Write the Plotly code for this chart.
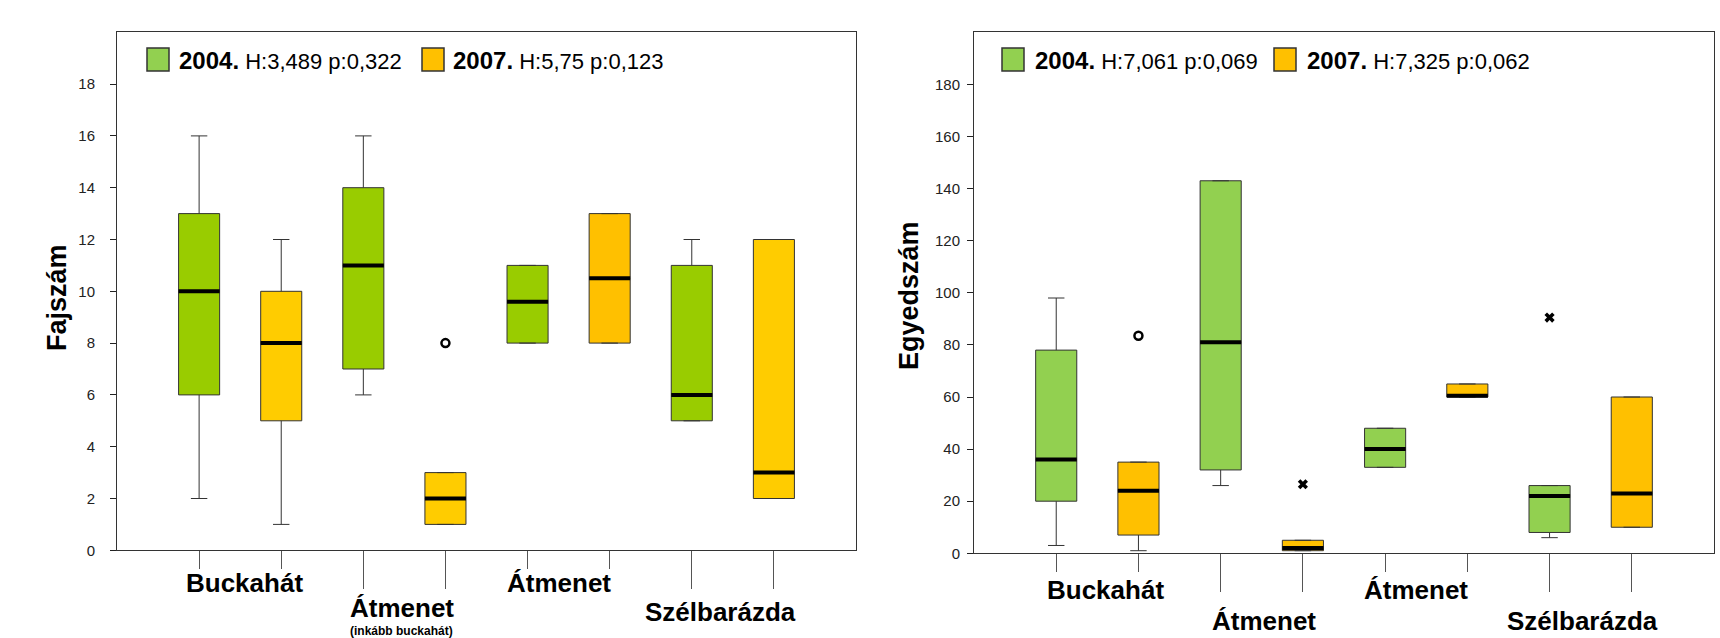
import plotly.graph_objects as go

W, H = 1720, 638
FONT = "Liberation Sans, Arial, sans-serif"

# Box positions: 2004 / 2007 pairs for each habitat
positions = [1, 2, 3, 4, 5, 6, 7, 8]
group_labels = ["Buckahát", "Átmenet", "Átmenet", "Szélbarázda"]
group_sub = ["", "(inkább buckahát)", "", ""]

# Fajszám (number of species)
faj_low = [2, 1, 6, 1, 8, 8, 5, 2]
faj_q1 = [6, 5, 7, 1, 8, 8, 5, 2]
faj_med = [10, 8, 11, 2, 9.6, 10.5, 6, 3]
faj_q3 = [13, 10, 14, 3, 11, 13, 11, 12]
faj_high = [16, 12, 16, 3, 11, 13, 12, 12]
faj_out_x = [4]
faj_out_y = [8]
faj_ticks = [0, 2, 4, 6, 8, 10, 12, 14, 16, 18]
faj_legend = [("2004.", "H:3,489 p:0,322"), ("2007.", "H:5,75 p:0,123")]

# Egyedszám (number of individuals)
egy_low = [3, 1, 26, 1, 33, 60, 6, 10]
egy_q1 = [20, 7, 32, 1, 33, 60, 8, 10]
egy_med = [36, 24, 81, 2, 40, 60.5, 22, 23]
egy_q3 = [78, 35, 143, 5, 48, 65, 26, 60]
egy_high = [98, 35, 143, 5, 48, 65, 26, 60]
egy_out_x = [2]
egy_out_y = [83.5]
egy_ext_x = [4, 7]
egy_ext_y = [26.5, 90.5]
egy_ticks = [0, 20, 40, 60, 80, 100, 120, 140, 160, 180]
egy_legend = [("2004.", "H:7,061 p:0,069"), ("2007.", "H:7,325 p:0,062")]

faj_colors = ["#99CC00", "#FFCC00", "#99CC00", "#FFCC00",
              "#99CC00", "#FFC000", "#99CC00", "#FFCC00"]
egy_colors = ["#92D050", "#FFC000", "#92D050", "#FFC000",
              "#92D050", "#FFC000", "#92D050", "#FFC000"]
legend_colors = ["#92D050", "#FFC000"]

BOX_W = 0.5

fig = go.Figure()


def add_panel(xa, ya, low, q1, med, q3, high, colors):
    for p, lo, a, m, b, hi, c in zip(positions, low, q1, med, q3, high, colors):
        fig.add_trace(go.Box(
            x=[p], q1=[a], median=[m], q3=[b], lowerfence=[lo], upperfence=[hi],
            width=BOX_W, whiskerwidth=0.4, fillcolor=c, boxpoints=False,
            line=dict(color="#333333", width=1), xaxis=xa, yaxis=ya,
            showlegend=False, hoverinfo="skip"))
    mx, my = [], []
    for p, m in zip(positions, med):
        mx += [p - BOX_W / 2, p + BOX_W / 2, None]
        my += [m, m, None]
    fig.add_trace(go.Scatter(x=mx, y=my, mode="lines", xaxis=xa, yaxis=ya,
                             line=dict(color="black", width=4),
                             showlegend=False, hoverinfo="skip"))


add_panel("x", "y", faj_low, faj_q1, faj_med, faj_q3, faj_high, faj_colors)
add_panel("x2", "y2", egy_low, egy_q1, egy_med, egy_q3, egy_high, egy_colors)

# outliers
fig.add_trace(go.Scatter(x=faj_out_x, y=faj_out_y, mode="markers", xaxis="x", yaxis="y",
                         marker=dict(symbol="circle-open", size=8, color="black",
                                     line=dict(width=2.5)),
                         showlegend=False, hoverinfo="skip"))
fig.add_trace(go.Scatter(x=egy_out_x, y=egy_out_y, mode="markers", xaxis="x2", yaxis="y2",
                         marker=dict(symbol="circle-open", size=8, color="black",
                                     line=dict(width=2.5)),
                         showlegend=False, hoverinfo="skip"))
fig.add_trace(go.Scatter(x=egy_ext_x, y=egy_ext_y, mode="markers", xaxis="x2", yaxis="y2",
                         marker=dict(symbol="x", size=9, color="black",
                                     line=dict(width=0)),
                         showlegend=False, hoverinfo="skip"))
# empty traces so the long-tick overlay axes get drawn
fig.add_trace(go.Scatter(x=[], y=[], xaxis="x3", yaxis="y", showlegend=False))
fig.add_trace(go.Scatter(x=[], y=[], xaxis="x4", yaxis="y2", showlegend=False))

# panel geometry in pixels
L1, R1 = 117, 856
L2, R2 = 974, 1714
TOP = 32.3
B1, B2 = 550.3, 553.3


def px(v):
    return v / W


def py(v):
    return 1 - v / H


tick_font = dict(family=FONT, size=15, color="#222222")
common_x = dict(range=[0, 9], showgrid=False, zeroline=False, showticklabels=False,
                ticks="outside", tickcolor="#555555", tickwidth=1, automargin=False)

fig.update_layout(
    width=W, height=H, margin=dict(l=0, r=0, t=0, b=0, autoexpand=False),
    paper_bgcolor="white", plot_bgcolor="white", showlegend=False,
    xaxis=dict(domain=[px(L1), px(R1)], anchor="y", tickvals=[1, 2, 5, 6], ticklen=18,
               showline=True, mirror=True, linecolor="#333333", linewidth=1, **common_x),
    xaxis3=dict(overlaying="x", anchor="y", tickvals=[3, 4, 7, 8], ticklen=38,
                showline=False, **common_x),
    xaxis2=dict(domain=[px(L2), px(R2)], anchor="y2", tickvals=[1, 2, 5, 6], ticklen=18,
                showline=True, mirror=True, linecolor="#333333", linewidth=1, **common_x),
    xaxis4=dict(overlaying="x2", anchor="y2", tickvals=[3, 4, 7, 8], ticklen=38,
                showline=False, **common_x),
    yaxis=dict(domain=[py(B1), py(TOP)], anchor="x", range=[0, 20], tickvals=faj_ticks,
               ticks="outside", ticklen=6, tickcolor="#222222", showgrid=False,
               zeroline=False, showline=True, mirror=True, linecolor="#333333",
               linewidth=1, tickfont=tick_font, ticklabelstandoff=12, automargin=False),
    yaxis2=dict(domain=[py(B2), py(TOP)], anchor="x2", range=[0, 200], tickvals=egy_ticks,
                ticks="outside", ticklen=6, tickcolor="#222222", showgrid=False,
                zeroline=False, showline=True, mirror=True, linecolor="#333333",
                linewidth=1, tickfont=tick_font, ticklabelstandoff=4, automargin=False),
)

annotations = []
shapes = []

# axis titles
annotations.append(dict(text="<b>Fajszám</b>", x=px(57), y=py(297), xref="paper", yref="paper",
                        textangle=-90, showarrow=False, xanchor="center", yanchor="middle",
                        font=dict(family=FONT, size=27, color="black")))
annotations.append(dict(text="<b>Egyedszám</b>", x=px(909), y=py(296), xref="paper", yref="paper",
                        textangle=-90, showarrow=False, xanchor="center", yanchor="middle",
                        font=dict(family=FONT, size=27, color="black")))

# habitat labels, staggered in two rows under the tick pairs
label_x = {"x": [1.55, 3.47, 5.38, 7.35], "x2": [1.6, 3.53, 5.37, 7.4]}
label_rows = {"x": (583, 608), "x2": (590, 621)}
for xa in ("x", "x2"):
    rows = label_rows[xa]
    for i, (gx, lab, sub) in enumerate(zip(label_x[xa], group_labels, group_sub)):
        row_y = rows[i % 2]
        if xa == "x" and i % 2 == 1 and not sub:
            row_y = 612
        annotations.append(dict(text="<b>" + lab + "</b>", x=gx, xref=xa, y=py(row_y),
                                yref="paper", showarrow=False, xanchor="center",
                                yanchor="middle",
                                font=dict(family=FONT, size=26, color="black")))
        if sub and xa == "x":
            annotations.append(dict(text="<b>" + sub + "</b>", x=gx, xref=xa, y=py(631),
                                    yref="paper", showarrow=False, xanchor="center",
                                    yanchor="middle",
                                    font=dict(family=FONT, size=12, color="black")))

# legends: coloured squares with year and Kruskal-Wallis statistics
legend_layout = [
    (faj_legend, [(147, 177), (422, 451)]),
    (egy_legend, [(1002, 1033), (1274, 1305)]),
]
for entries, places in legend_layout:
    for (year, stat), (sq_x, tx), col in zip(entries, places, legend_colors):
        shapes.append(dict(type="rect", xref="paper", yref="paper",
                           x0=px(sq_x), x1=px(sq_x + 22), y0=py(71), y1=py(48),
                           fillcolor=col, line=dict(color="#333333", width=1.5)))
        annotations.append(dict(
            text="<b><span style='font-size:24px'>" + year + "</span></b> " + stat,
            x=px(tx), y=py(60), xref="paper", yref="paper", showarrow=False,
            xanchor="left", yanchor="middle",
            font=dict(family=FONT, size=22, color="black")))

fig.update_layout(annotations=annotations, shapes=shapes)

fig.write_html("out.html")
